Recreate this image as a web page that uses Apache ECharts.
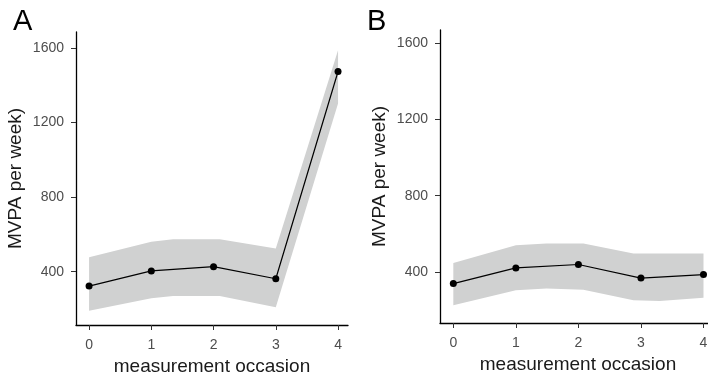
<!DOCTYPE html>
<html><head><meta charset="utf-8">
<script src="https://cdn.jsdelivr.net/npm/echarts@6/dist/echarts.min.js"></script>
<style>html,body{margin:0;padding:0;background:#fff}#c{width:708px;height:380px}</style>
</head><body><div id="c"></div>
<script>
// Tick labels
const xTicks = [0, 1, 2, 3, 4];
const yTicks = [400, 800, 1200, 1600];

// Panel A
const occA = [0, 1, 2, 3, 4];
const mvpaA = [323, 404, 427, 362, 1474];
const bandXA = [0, 1, 1.35, 2.1, 3, 4];
const bandLowA = [191, 258, 270, 270, 209, 1302];
const bandHighA = [477, 561, 574, 574, 525, 1588];

// Panel B
const occB = [0, 1, 2, 3, 4];
const mvpaB = [339, 421, 439, 368, 386];
const bandXB = [0, 1, 1.49, 2.08, 2.88, 3.3, 4];
const bandLowB = [225, 304, 313, 307, 251, 247, 265];
const bandHighB = [447, 540, 549, 549, 497, 497, 497];

const font = 'Liberation Sans, Arial, sans-serif';
const tickColor = '#4d4d4d';

function bandSeries(idx, bx, lo, hi) {
  const data = bx.map((x, i) => [x, lo[i], hi[i]]);
  return {
    type: 'custom', xAxisIndex: idx, yAxisIndex: idx, silent: true, z: 1,
    data: data,
    encode: { x: 0, y: [1, 2] },
    renderItem: function (params, api) {
      if (params.dataIndex !== 0) return;
      const top = data.map(d => api.coord([d[0], d[2]]));
      const bot = data.map(d => api.coord([d[0], d[1]])).reverse();
      return { type: 'polygon', shape: { points: top.concat(bot) }, style: { fill: '#d0d1d1' } };
    }
  };
}
function lineSeries(idx, xs, ys) {
  return {
    type: 'line', xAxisIndex: idx, yAxisIndex: idx, z: 3,
    data: xs.map((x, i) => [x, ys[i]]),
    symbol: 'circle', symbolSize: 7, showSymbol: true,
    lineStyle: { color: '#000', width: 1.2 }, itemStyle: { color: '#000' },
    animation: false
  };
}
function xAxis(idx, min, max) {
  return {
    type: 'value', gridIndex: idx, min: min, max: max,
    name: 'measurement occasion', nameLocation: 'middle', nameGap: 32,
    nameTextStyle: { fontFamily: font, fontSize: 19, color: '#1a1a1a' },
    axisLine: { show: true, onZero: false, lineStyle: { color: '#000', width: 1.3 } },
    axisTick: { show: true, customValues: xTicks, length: 5, lineStyle: { color: '#333' } },
    axisLabel: { customValues: xTicks, formatter: v => String(v), fontFamily: font, fontSize: 14, color: tickColor, margin: 13 },
    splitLine: { show: false }
  };
}
function yAxis(idx, min, max) {
  return {
    type: 'value', gridIndex: idx, min: min, max: max,
    name: 'MVPA per week)', nameLocation: 'middle', nameGap: 51, nameRotate: 90,
    nameTextStyle: { fontFamily: font, fontSize: 19, color: '#1a1a1a' },
    axisLine: { show: true, onZero: false, lineStyle: { color: '#000', width: 1.3 } },
    axisTick: { show: true, customValues: yTicks, length: 5, lineStyle: { color: '#333' } },
    axisLabel: { customValues: yTicks, formatter: v => String(v), fontFamily: font, fontSize: 14, color: tickColor, margin: 12 },
    splitLine: { show: false }
  };
}

const chart = echarts.init(document.getElementById('c'), null, { renderer: 'canvas' });
chart.setOption({
  animation: false,
  backgroundColor: '#fff',
  title: [
    { text: 'A', left: 8, top: 2, textStyle: { fontFamily: font, fontSize: 29, fontWeight: 'normal', color: '#000' } },
    { text: 'B', left: 362, top: 2, textStyle: { fontFamily: font, fontSize: 29, fontWeight: 'normal', color: '#000' } }
  ],
  grid: [
    { left: 76, top: 32, width: 272, bottom: 55, outerBoundsMode: 'none', containLabel: false },
    { left: 440, top: 30, width: 276, bottom: 57, outerBoundsMode: 'none', containLabel: false }
  ],
  xAxis: [xAxis(0, -0.21, 4.16), xAxis(1, -0.213, 4.2)],
  yAxis: [yAxis(0, 114, 1686), yAxis(1, 132, 1670)],
  series: [
    bandSeries(0, bandXA, bandLowA, bandHighA),
    lineSeries(0, occA, mvpaA),
    bandSeries(1, bandXB, bandLowB, bandHighB),
    lineSeries(1, occB, mvpaB)
  ]
});
</script></body></html>
